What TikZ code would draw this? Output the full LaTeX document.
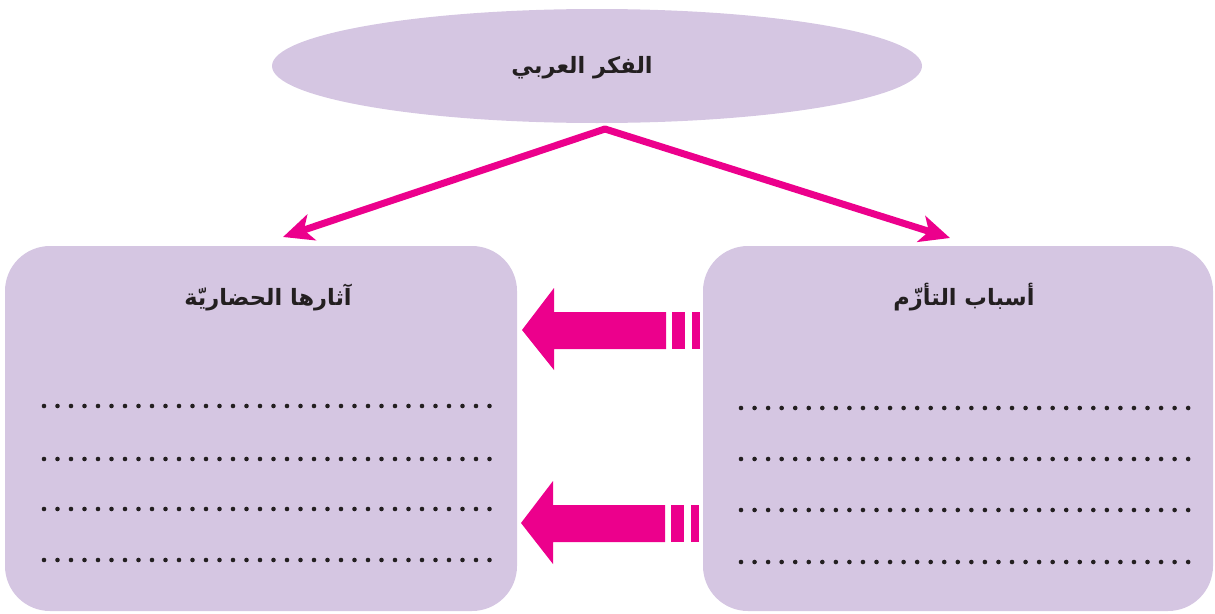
\documentclass[tikz,border=0pt]{standalone}
\usepackage{fontspec}
\usetikzlibrary{shapes.geometric,arrows.meta}
\newfontfamily\arabicfont[Script=Arabic]{DejaVu Sans}
\TeXXeTstate=1
\definecolor{lav}{HTML}{D5C6E2}
\definecolor{mag}{HTML}{EC008C}
\definecolor{dotc}{HTML}{231F20}
\tikzset{
  box/.style={rectangle,rounded corners=45pt,fill=lav,draw=none,inner sep=0pt},
  title/.style={font=\arabicfont\bfseries\fontsize{22.5}{26}\selectfont,text=dotc,inner sep=0pt},
  thinarrow/.style={draw=mag,line width=7pt,-{Stealth[length=30pt,width=27pt,inset=8pt]}},
  blockarrow/.style={fill=mag,draw=none},
  dotrow/.style={fill=dotc}
}
\begin{document}
\begin{tikzpicture}[x=1pt,y=-1pt]
\useasboundingbox (0,0) rectangle (1215,613);
% top ellipse
\node[ellipse,fill=lav,minimum width=650pt,minimum height=114pt,inner sep=0pt] (top) at (597,66) {};
\node[title] (toptext) at (582,68) {\beginR الفكر العربي\endR};
% boxes
\node[box,minimum width=512pt,minimum height=365pt] (left) at (261,428.5) {};
\node[box,minimum width=510pt,minimum height=365pt] (right) at (958,428.5) {};
\node[title] (lefttitle) at (268,297) {\beginR آثارها الحضاريّة\endR};
\node[title] (righttitle) at (964,297) {\beginR أسباب التأزّم\endR};
% connectors
\coordinate (apex) at (605,129);
\coordinate (tipL) at (283,237);
\coordinate (tipR) at (950,238);
\draw[thinarrow] (apex) -- (tipL);
\draw[thinarrow] (apex) -- (tipR);
\fill[mag] (apex) circle (3.5pt);
% block arrows
\fill[blockarrow] (522,330) -- (554,288) -- (554,312) -- (666,312) -- (666,349) -- (554,349) -- (554,370) -- cycle;
\fill[blockarrow] (672,312) rectangle (685,349);
\fill[blockarrow] (692,312) rectangle (700,349);
\fill[blockarrow] (521,523) -- (553,481) -- (553,505) -- (665,505) -- (665,542) -- (553,542) -- (553,564) -- cycle;
\fill[blockarrow] (671,505) rectangle (684,542);
\fill[blockarrow] (691,505) rectangle (699,542);
% dotted lines
\foreach \y in {406,459,509,560}{
  \foreach \i in {0,...,33}{
    \fill[dotrow] (44+13.5*\i,\y) circle (2.3pt);
  }
}
\foreach \y in {408,459,510,562}{
  \foreach \i in {0,...,33}{
    \fill[dotrow] (741+13.55*\i,\y) circle (2.3pt);
  }
}
\end{tikzpicture}
\end{document}
